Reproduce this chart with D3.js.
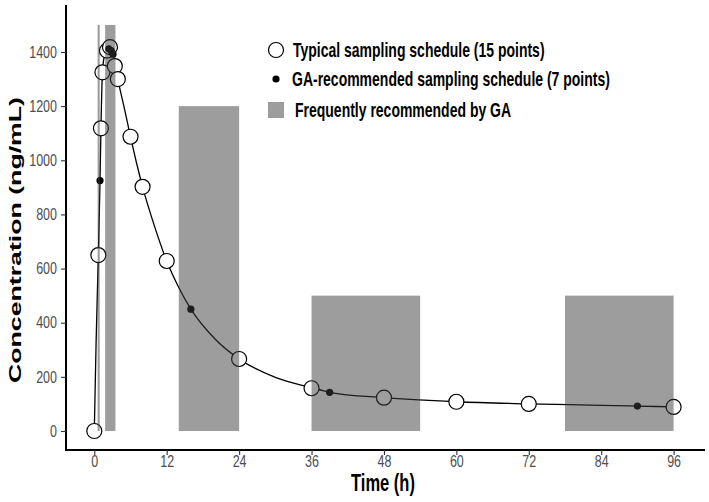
<!DOCTYPE html>
<html>
<head>
<meta charset="utf-8">
<script src="https://cdn.jsdelivr.net/npm/d3@7"></script>
<style>
  html, body { margin: 0; padding: 0; background: #fff; }
  svg { display: block; }
</style>
</head>
<body>
<svg id="chart" width="709" height="502"></svg>
<script>
// ---- data ----
const xTicks = [0, 12, 24, 36, 48, 60, 72, 84, 96];
const yTicks = [0, 200, 400, 600, 800, 1000, 1200, 1400];

// model curve (time h, concentration ng/mL)
const curveTime = [0, 0.3, 0.67, 0.95, 1.1, 1.35, 1.8, 2.3, 2.8, 3.3, 3.9, 5, 6, 7, 8, 10, 12, 14, 16, 20, 24, 30, 36, 39, 48, 60, 72, 84, 90, 96];
const curveConc = [0, 330, 650, 925, 1115, 1326, 1398, 1415, 1412, 1370, 1300, 1190, 1087, 990, 902, 755, 628, 530, 450, 340, 266, 198, 160, 143, 123, 108, 100, 95, 92, 89];

// typical sampling schedule (open circles)
const typicalTime = [0, 0.67, 1.1, 1.35, 2.1, 2.6, 3.4, 3.9, 6, 8, 12, 24, 36, 48, 60, 72, 96];
const typicalConc = [0, 650, 1118, 1325, 1405, 1418, 1348, 1300, 1087, 902, 628, 266, 158, 123, 108, 100, 89];

// GA-recommended sampling schedule (black dots)
const gaTime = [0.95, 2.4, 2.8, 3.1, 16, 39, 90];
const gaConc = [925, 1412, 1405, 1392, 450, 143, 92];

// frequently recommended windows
const winStart = [0.55, 1.8, 14, 36, 78];
const winEnd   = [0.9, 3.5, 24, 54, 96];
const winTop   = [1500, 1500, 1200, 500, 500];

const legendLabels = [
  "Typical sampling schedule (15 points)",
  "GA-recommended sampling schedule (7 points)",
  "Frequently recommended by GA"
];

// ---- drawing ----
const svg = d3.select("#chart");
const font = "'Liberation Sans', Arial, sans-serif";

const x = d3.scaleLinear().domain([0, 96]).range([94.3, 673.6]);
const y = d3.scaleLinear().domain([0, 1400]).range([431, 52]);

const panel = { left: 66, right: 705, top: 5, bottom: 450 };
const stretch = 1.4; // reference text is vertically stretched

const g = svg.append("g");

// curve
const line = d3.line().x(d => x(d[0])).y(d => y(d[1])).curve(d3.curveMonotoneX);
g.append("path")
  .datum(curveTime.map((t, i) => [t, curveConc[i]]))
  .attr("d", line)
  .attr("fill", "none")
  .attr("stroke", "#000")
  .attr("stroke-width", 1.3);

// typical points
g.selectAll("circle.typ")
  .data(typicalTime.map((t, i) => [t, typicalConc[i]]))
  .join("circle")
  .attr("class", "typ")
  .attr("cx", d => x(d[0]))
  .attr("cy", d => y(d[1]))
  .attr("r", 7.5)
  .attr("fill", "#fff")
  .attr("stroke", "#000")
  .attr("stroke-width", 1.2);

// GA points
g.selectAll("circle.ga")
  .data(gaTime.map((t, i) => [t, gaConc[i]]))
  .join("circle")
  .attr("class", "ga")
  .attr("cx", d => x(d[0]))
  .attr("cy", d => y(d[1]))
  .attr("r", 3.6)
  .attr("fill", "#000");

// windows (semi-transparent on top)
g.selectAll("rect.win")
  .data(winStart.map((s, i) => ({ s, e: winEnd[i], top: winTop[i] })))
  .join("rect")
  .attr("class", "win")
  .attr("x", d => x(d.s))
  .attr("width", d => x(d.e) - x(d.s))
  .attr("y", d => y(d.top))
  .attr("height", d => y(0) - y(d.top))
  .attr("fill", "#3c3c3c")
  .attr("fill-opacity", 0.5);

// axes lines
svg.append("line")
  .attr("x1", panel.left).attr("x2", panel.left)
  .attr("y1", panel.top).attr("y2", panel.bottom + 1)
  .attr("stroke", "#000").attr("stroke-width", 2);
svg.append("line")
  .attr("x1", panel.left - 1).attr("x2", panel.right)
  .attr("y1", panel.bottom).attr("y2", panel.bottom)
  .attr("stroke", "#000").attr("stroke-width", 2);

// x axis ticks
const xAxis = d3.axisBottom(x).tickValues(xTicks).tickFormat(d3.format("d")).tickSize(5).tickPadding(6);
const gx = svg.append("g").attr("transform", `translate(0,${panel.bottom})`).call(xAxis);
gx.select(".domain").remove();
gx.selectAll(".tick line").attr("stroke", "#333").attr("stroke-width", 1.1);
gx.selectAll(".tick text")
  .attr("fill", "#4d4d4d").style("font-family", font).style("font-size", "12.5px")
  .attr("y", 0).attr("dy", null)
  .attr("transform", `translate(0,${17}) scale(1,1.3)`);

// y axis ticks
const yAxis = d3.axisLeft(y).tickValues(yTicks).tickFormat(d3.format("d")).tickSize(5).tickPadding(4);
const gy = svg.append("g").attr("transform", `translate(${panel.left},0)`).call(yAxis);
gy.select(".domain").remove();
gy.selectAll(".tick line").attr("stroke", "#333").attr("stroke-width", 1.1);
gy.selectAll(".tick text")
  .attr("fill", "#4d4d4d").style("font-family", font).style("font-size", "12.5px")
  .attr("transform", "scale(1,1.3)").attr("dy", "0.32em");

// axis titles
svg.append("text")
  .attr("transform", `translate(383,491) scale(1,${stretch})`)
  .attr("text-anchor", "middle")
  .style("font-family", font).style("font-weight", "bold").style("font-size", "16.5px")
  .text("Time (h)");
svg.append("text")
  .attr("transform", "translate(21,240) rotate(-90) scale(1.57,1)")
  .attr("text-anchor", "middle")
  .style("font-family", font).style("font-weight", "bold").style("font-size", "17px")
  .text("Concentration (ng/mL)");

// legend
const lg = svg.append("g");
lg.append("circle").attr("cx", 276).attr("cy", 50).attr("r", 7.5)
  .attr("fill", "#fff").attr("stroke", "#000").attr("stroke-width", 1.2);
lg.append("circle").attr("cx", 276).attr("cy", 79).attr("r", 3.6).attr("fill", "#000");
lg.append("rect").attr("x", 268).attr("y", 102).attr("width", 16).attr("height", 16)
  .attr("fill", "#3c3c3c").attr("fill-opacity", 0.5);
const lx = [293, 292, 295];
const ly = [50, 79, 110];
legendLabels.forEach((t, i) => {
  lg.append("text")
    .attr("transform", `translate(${lx[i]},${ly[i]}) scale(1,${stretch})`)
    .attr("dy", "0.35em")
    .style("font-family", font).style("font-weight", "bold").style("font-size", "14px")
    .attr("fill", "#000")
    .text(t);
});
</script>
</body>
</html>
